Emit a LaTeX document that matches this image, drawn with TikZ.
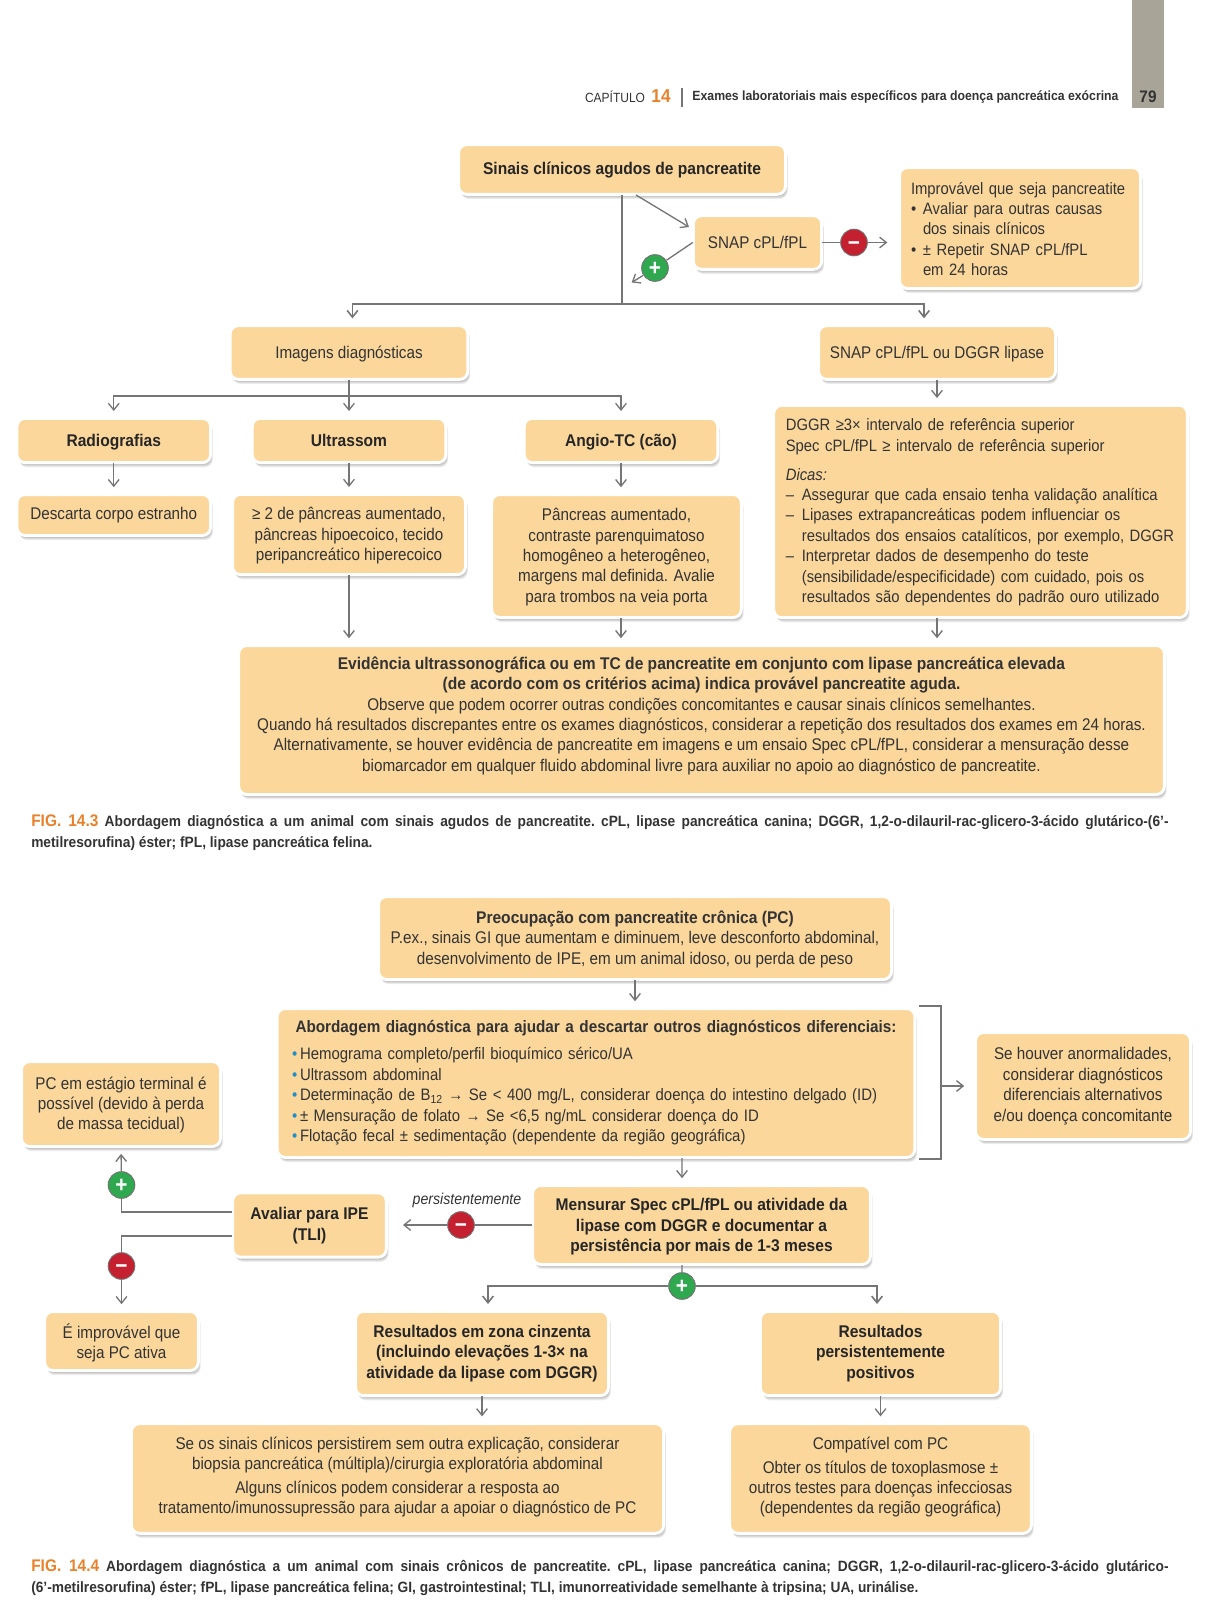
\documentclass[tikz,border=0pt]{standalone}
\usepackage{fontspec}
\setmainfont[FakeStretch=0.9,BoldFeatures={FakeStretch=0.92}]{Liberation Sans}
\usetikzlibrary{arrows.meta,shadows}
\definecolor{boxfill}{HTML}{FBD79C}
\definecolor{inkgray}{HTML}{333333}
\definecolor{linegray}{HTML}{757575}
\definecolor{chapgray}{HTML}{A8A498}
\definecolor{figorange}{HTML}{E9812B}
\definecolor{plusgreen}{HTML}{2FA84F}
\definecolor{minusred}{HTML}{C4202F}
\definecolor{dotblue}{HTML}{1E8FC8}
\newcommand{\dotitem}{\makebox[9pt][l]{•}}
\newcommand{\blueitem}{\makebox[6pt][l]{\textcolor{dotblue}{•}}}
\newcommand{\dashitem}{\makebox[12pt][l]{–}}
\tikzset{
  softshade/.style={drop shadow={shadow xshift=#1*0.35pt,shadow yshift=-#1*0.7pt,fill=black,opacity=.07}},
  flowbox/.style={rectangle,rounded corners=6pt,fill=boxfill,draw=white,line width=2.2pt,
    softshade=5,softshade=4,softshade=3,softshade=2,softshade=1,
    text=inkgray,align=center,inner sep=0pt,outer sep=0.5pt,text depth=1pt,
    execute at begin node=\strut,execute at end node=\strut,
    font=\fontsize{12.7}{15.3}\selectfont},
  boldbox/.style={flowbox,text=black!85,font=\fontsize{12.7}{15.3}\selectfont\bfseries},
  listbox/.style={flowbox,align=left,text depth=},
  sz/.style 2 args={minimum width=#1+2.2pt,minimum height=#2+2.2pt},
  flowline/.style={draw=linegray,line width=1pt},
  mainline/.style={draw=linegray,line width=1.2pt},
  arr/.style={flowline,-{Straight Barb[length=5pt,width=8pt]},shorten >=5pt},
  plussign/.style={circle,minimum size=20pt,inner sep=0pt,draw=black!55,line width=0.7pt,
    fill=plusgreen,text=white,text height=11.4pt,text depth=0pt,font=\fontsize{17}{17}\selectfont\bfseries},
  minussign/.style={plussign,fill=minusred},
  capt/.style={anchor=north west,inner sep=0pt,text width=853pt,align=justify,text=inkgray,
    font=\fontsize{11.2}{16}\selectfont\bfseries\frenchspacing},
}
\begin{document}
\begin{tikzpicture}[x=0.75pt,y=0.75pt,yscale=-1,xscale=1]
\useasboundingbox (0,0) rectangle (1213,1600);

% page head
\fill[chapgray] (1132,0) rectangle (1164,108);
\node (chap) at (615,97) [inner sep=0pt,text=inkgray,font=\fontsize{10}{12}\selectfont] {CAPÍTULO};
\node (chapnum) at (661,96) [inner sep=0pt,text=figorange,font=\fontsize{14}{14}\selectfont\bfseries] {14};
\draw[linegray,line width=0.8pt] (682,88) -- (682,107);
\node (chaptitle) at (905.5,97) [inner sep=0pt,text=inkgray,font=\fontsize{10}{12}\selectfont\bfseries] {Exames laboratoriais mais específicos para doença pancreática exócrina};
\node (pagenum) at (1148,97) [inner sep=0pt,text=inkgray,font=\fontsize{12.5}{14}\selectfont\bfseries] {79};

% Fig. 14.3 boxes
\node (sinais) at (622,169.5) [boldbox,sz={243pt}{35pt},text depth=3pt] {Sinais clínicos agudos de pancreatite};
\node (snap) at (757.5,242.5) [flowbox,sz={94pt}{38pt}] {SNAP cPL/fPL};
\node (improv) at (1020,228) [listbox,sz={178.5pt}{88.5pt},text width=163.5pt,font=\fontsize{12.35}{15.3}\selectfont] {\rule{0pt}{15pt}Improvável que seja pancreatite\\\dotitem Avaliar para outras causas\\\hspace*{9pt}dos sinais clínicos\\\dotitem ± Repetir SNAP cPL/fPL\\\hspace*{9pt}em 24 horas};
\node (imagens) at (349,352.5) [flowbox,sz={176pt}{38pt}] {Imagens diagnósticas};
\node (snapou) at (937,352.5) [flowbox,sz={175.5pt}{38pt}] {SNAP cPL/fPL ou DGGR lipase};
\node (radio) at (113.75,440.5) [boldbox,sz={143pt}{31pt}] {Radiografias};
\node (ultra) at (349,440.5) [boldbox,sz={143pt}{31pt}] {Ultrassom};
\node (angio) at (621,440.5) [boldbox,sz={143pt}{31pt}] {Angio-TC (cão)};
\node (descarta) at (113.75,515) [flowbox,sz={143pt}{28.5pt},text depth=3.5pt] {Descarta corpo estranho};
\node (panum) at (349,534.5) [flowbox,sz={172.5pt}{58pt}] {≥ 2 de pâncreas aumentado,\\pâncreas hipoecoico, tecido\\peripancreático hiperecoico};
\node (pandois) at (616.5,556) [flowbox,sz={185pt}{90pt}] {Pâncreas aumentado,\\contraste parenquimatoso\\homogêneo a heterogêneo,\\margens mal definida. Avalie\\para trombos na veia porta};
\node (dggr) at (980.5,511.5) [listbox,sz={308pt}{157pt},text width=292pt,font=\fontsize{12.35}{15.3}\selectfont] {\rule{0pt}{12.2pt}DGGR ≥3× intervalo de referência superior\\Spec cPL/fPL ≥ intervalo de referência superior\\[6.5pt]\textit{Dicas:}\\\dashitem Assegurar que cada ensaio tenha validação analítica\\\dashitem Lipases extrapancreáticas podem influenciar os\\\hspace*{12pt}resultados dos ensaios catalíticos, por exemplo, DGGR\\\dashitem Interpretar dados de desempenho do teste\\\hspace*{12pt}(sensibilidade/especificidade) com cuidado, pois os\\\hspace*{12pt}resultados são dependentes do padrão ouro utilizado};
\node (evid) at (701.5,720) [flowbox,sz={692pt}{109.5pt},text depth=9pt] {\textbf{Evidência ultrassonográfica ou em TC de pancreatite em conjunto com lipase pancreática elevada}\\\textbf{(de acordo com os critérios acima) indica provável pancreatite aguda.}\\Observe que podem ocorrer outras condições concomitantes e causar sinais clínicos semelhantes.\\Quando há resultados discrepantes entre os exames diagnósticos, considerar a repetição dos resultados dos exames em 24 horas.\\Alternativamente, se houver evidência de pancreatite em imagens e um ensaio Spec cPL/fPL, considerar a mensuração desse\\biomarcador em qualquer fluido abdominal livre para auxiliar no apoio ao diagnóstico de pancreatite.};

% Fig. 14.3 signs and free ends
\node (plusa) at (655,268) [plussign] {+};
\node (minusa) at (854,242.5) [minussign] {−};
\coordinate (joina) at (622,304);
\coordinate (joinb) at (349,396);
\coordinate (snapin) at (689,227);
\coordinate (plusout) at (626,286);
\coordinate (snapout) at (894,242.5);

% Fig. 14.3 connectors
\draw[flowline] (sinais.south) -- (joina);
\draw[arr,shorten >=0pt] ([xshift=10.5pt]sinais.south) -- (snapin);
\draw[flowline] (snap.west) -- (plusa);
\draw[arr] (plusa) -- (plusout);
\draw[flowline] (snap.east) -- (minusa);
\draw[arr] (minusa) -- (snapout);
\draw[arr,mainline] (joina) -| ([xshift=2.6pt]imagens.north);
\draw[arr,mainline] (joina) -| ([xshift=-9.75pt]snapou.north);
\draw[flowline] (imagens.south) -- (joinb);
\draw[arr] (joinb) -| (radio.north);
\draw[arr] (joinb) -- (ultra.north);
\draw[arr] (joinb) -| (angio.north);
\draw[arr] (snapou.south) -- (dggr.north -| snapou.south);
\draw[arr] (radio.south) -- (descarta.north);
\draw[arr] (ultra.south) -- (panum.north);
\draw[arr] (angio.south) -- (angio.south |- pandois.north);
\draw[arr] (panum.south) -- (panum.south |- evid.north);
\draw[arr] (angio.south |- pandois.south) -- (angio.south |- evid.north);
\draw[arr] (snapou.south |- dggr.south) -- (snapou.south |- evid.north);

% Fig. 14.3 caption
\node (captb) at (31,814) [capt] {\textcolor{figorange}{\fontsize{12.6}{16}\selectfont FIG. 14.3} Abordagem diagnóstica a um animal com sinais agudos de pancreatite. cPL, lipase pancreática canina; DGGR, 1,2-o-dilauril-rac-glicero-3-ácido glutárico-(6'-\linebreak metilresorufina) éster; fPL, lipase pancreática felina.};

% Fig. 14.4 boxes
\node (preoc) at (635,938) [flowbox,sz={382.5pt}{60pt}] {\textbf{Preocupação com pancreatite crônica (PC)}\\P.ex., sinais GI que aumentam e diminuem, leve desconforto abdominal,\\desenvolvimento de IPE, em um animal idoso, ou perda de peso};
\node (abord) at (596,1083) [listbox,sz={476pt}{109.5pt},text width=456pt,font=\fontsize{12.45}{15.3}\selectfont] {\makebox[\linewidth]{\bfseries Abordagem diagnóstica para ajudar a descartar outros diagnósticos diferenciais:}\\[5pt]\blueitem Hemograma completo/perfil bioquímico sérico/UA\\\blueitem Ultrassom abdominal\\\blueitem Determinação de B\textsubscript{12} → Se < 400 mg/L, considerar doença do intestino delgado (ID)\\\blueitem ± Mensuração de folato → Se <6,5 ng/mL considerar doença do ID\\\blueitem Flotação fecal ± sedimentação (dependente da região geográfica)};
\node (sehouver) at (1083,1086) [flowbox,sz={159pt}{78pt},text depth=2.5pt] {Se houver anormalidades,\\considerar diagnósticos\\diferenciais alternativos\\e/ou doença concomitante};
\node (pcem) at (121,1104) [flowbox,sz={147pt}{61.5pt}] {PC em estágio terminal é\\possível (devido à perda\\de massa tecidual)};
\node (avaliar) at (309.5,1225) [boldbox,sz={113pt}{46pt},text depth=2pt] {Avaliar para IPE\\(TLI)};
\node (mens) at (701.5,1225) [boldbox,sz={251pt}{57pt},text depth=0pt] {Mensurar Spec cPL/fPL ou atividade da\\lipase com DGGR e documentar a\\persistência por mais de 1-3 meses};
\node (persist) at (467,1200) [inner sep=0pt,text=inkgray,font=\fontsize{11.8}{12}\selectfont\itshape] {persistentemente};
\node (eimprov) at (121.5,1341) [flowbox,sz={113pt}{42pt},text depth=0pt] {É improvável que\\seja PC ativa};
\node (rzona) at (482,1353.5) [boldbox,sz={187.5pt}{61pt},text depth=2.5pt] {Resultados em zona cinzenta\\(incluindo elevações 1-3× na\\atividade da lipase com DGGR)};
\node (rpers) at (880.5,1353.5) [boldbox,sz={178pt}{61pt},text depth=2.5pt] {Resultados\\persistentemente\\positivos};
\node (seos) at (397.5,1478.5) [flowbox,sz={397pt}{80pt},text depth=4.6pt] {Se os sinais clínicos persistirem sem outra explicação, considerar\\biopsia pancreática (múltipla)/cirurgia exploratória abdominal\\[2.5pt]Alguns clínicos podem considerar a resposta ao\\tratamento/imunossupressão para ajudar a apoiar o diagnóstico de PC};
\node (compat) at (880.5,1478.5) [flowbox,sz={224pt}{80pt},text depth=4.6pt] {Compatível com PC\\[2.5pt]Obter os títulos de toxoplasmose ±\\outros testes para doenças infecciosas\\(dependentes da região geográfica)};

% Fig. 14.4 signs and free ends
\node (plusb) at (121.5,1185) [plussign] {+};
\node (minusb) at (121.5,1266) [minussign] {−};
\node (minusc) at (461,1225) [minussign] {−};
\node (plusc) at (682,1286) [plussign] {+};
\coordinate (avup) at (232,1212);
\coordinate (avdown) at (232,1236);
\coordinate (brtop) at (919,1006);
\coordinate (brtopr) at (941,1006);
\coordinate (brbotr) at (941,1159);
\coordinate (brbot) at (919,1159);
\coordinate (brmid) at (941,1086);

% Fig. 14.4 connectors
\draw[arr] (preoc.south) -- (preoc.south |- abord.north);
\draw[flowline] (brtop) -- (brtopr) -- (brbotr) -- (brbot);
\draw[arr,shorten >=8pt] (brmid) -- (sehouver.west);
\draw[arr] ([xshift=64.5pt]abord.south) -- ([xshift=-14.6pt]mens.north);
\draw[flowline] (mens.west) -- (minusc);
\draw[arr,shorten >=12pt] (minusc) -- (avaliar.east);
\draw[flowline] (avup) -| (plusb);
\draw[arr] (plusb) -- (pcem.south);
\draw[flowline] (avdown) -| (minusb);
\draw[arr] (minusb) -- (eimprov.north);
\draw[flowline] ([xshift=-14.6pt]mens.south) -- (plusc);
\draw[arr,mainline] (plusc) -| ([xshift=4.5pt]rzona.north);
\draw[arr,mainline] (plusc) -| ([xshift=-2.6pt]rpers.north);
\draw[arr] (rzona.south) -- (rzona.south |- seos.north);
\draw[arr] (rpers.south) -- (compat.north);

% Fig. 14.4 caption
\node (captc) at (31,1559) [capt] {\textcolor{figorange}{\fontsize{12.6}{16}\selectfont FIG. 14.4} Abordagem diagnóstica a um animal com sinais crônicos de pancreatite. cPL, lipase pancreática canina; DGGR, 1,2-o-dilauril-rac-glicero-3-ácido glutárico-\linebreak (6'-metilresorufina) éster; fPL, lipase pancreática felina; GI, gastrointestinal; TLI, imunorreatividade semelhante à tripsina; UA, urinálise.};

\end{tikzpicture}
\end{document}
